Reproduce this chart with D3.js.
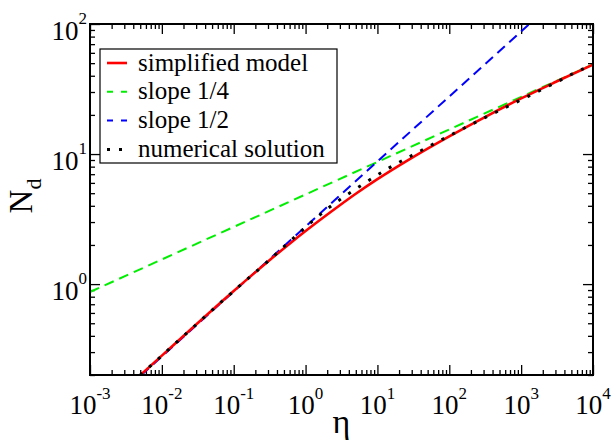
<!DOCTYPE html>
<html>
<head>
<meta charset="utf-8">
<script src="https://cdn.jsdelivr.net/npm/d3@7"></script>
<style>
  body { margin: 0; background: #fff; }
</style>
</head>
<body>
<div id="container"></div>
<script>
// Données
const etaModel = [0.005, 0.01, 0.03, 0.1, 0.3, 0.6, 1, 3, 5, 10, 25, 100, 300, 1000, 3000, 10000];
const ndModel = [0.1995, 0.282, 0.489, 0.885, 1.493, 2.046, 2.559, 4.04, 4.95, 6.41, 8.79, 13.68, 19.0, 26.76, 35.8, 48.75];

const etaSlope14 = [0.001, 10000];
const ndSlope14 = [0.87, 48.9];

const etaSlope12 = [0.0052, 1300];
const ndSlope12 = [0.2, 99.9];

const etaNum = [0.005, 0.01, 0.1, 0.3, 0.82, 1.96, 5.14, 13.7, 37.8, 107, 297, 838, 2390, 9550, 10000];
const ndNum = [0.1995, 0.282, 0.885, 1.50, 2.48, 3.75, 5.44, 7.67, 10.42, 14.09, 18.79, 24.9, 33.2, 47.8, 48.2];

const xExponents = [-3, -2, -1, 0, 1, 2, 3, 4];
const yExponents = [0, 1, 2];
const legendLabels = ["simplified model", "slope 1/4", "slope 1/2", "numerical solution"];

// Dimensions
const width = 614, height = 443;
const pLeft = 90, pRight = 593, pTop = 24, pBottom = 375;
const serif = '"Liberation Serif"';

const svg = d3.select("#container").append("svg")
  .attr("width", width).attr("height", height);

svg.append("rect").attr("width", width).attr("height", height).attr("fill", "#fff");

const x = d3.scaleLog().domain([1e-3, 1e4]).range([pLeft, pRight]);
const y = d3.scaleLog().domain([0.2, 100]).range([pBottom, pTop]);

// Graduations mineures
const xMajor = xExponents.map(e => Math.pow(10, e));
const xMinor = [];
xMajor.slice(0, -1).forEach(v => { for (let k = 2; k <= 9; k++) xMinor.push(v * k); });
const yMinor = [];
[0.1, 1, 10].forEach(v => { for (let k = 2; k <= 9; k++) { const t = v * k; if (t >= 0.2 && t < 100) yMinor.push(t); } });
const yMajor = yExponents.map(e => Math.pow(10, e));

function styleAxis(g) {
  g.select(".domain").remove();
  g.selectAll("line").attr("stroke", "#000").attr("stroke-width", 1.3);
}

// Axes (ticks vers l'intérieur, sur les quatre côtés)
[[d3.axisBottom, pBottom], [d3.axisTop, pTop]].forEach(([ax, pos]) => {
  svg.append("g").attr("transform", `translate(0,${pos})`)
    .call(ax(x).tickValues(xMajor).tickSize(-10).tickFormat("")).call(styleAxis);
  svg.append("g").attr("transform", `translate(0,${pos})`)
    .call(ax(x).tickValues(xMinor).tickSize(-5).tickFormat("")).call(styleAxis);
});
[[d3.axisLeft, pLeft], [d3.axisRight, pRight]].forEach(([ax, pos]) => {
  svg.append("g").attr("transform", `translate(${pos},0)`)
    .call(ax(y).tickValues(yMajor).tickSize(-10).tickFormat("")).call(styleAxis);
  svg.append("g").attr("transform", `translate(${pos},0)`)
    .call(ax(y).tickValues(yMinor).tickSize(-5).tickFormat("")).call(styleAxis);
});

// Etiquettes des graduations
xExponents.forEach(e => {
  const t = svg.append("text")
    .attr("x", x(Math.pow(10, e))).attr("y", 414)
    .attr("text-anchor", "middle")
    .style("font-family", serif).style("font-size", "27px");
  t.append("tspan").text("10");
  t.append("tspan").attr("dy", -15).style("font-size", "17px").text(e);
});
yExponents.forEach(e => {
  const t = svg.append("text")
    .attr("x", 87).attr("y", y(Math.pow(10, e)) + 16)
    .attr("text-anchor", "end")
    .style("font-family", serif).style("font-size", "27px");
  t.append("tspan").text("10");
  t.append("tspan").attr("dy", -16).style("font-size", "17px").text(e);
});

// Titres des axes
svg.append("text").attr("x", (pLeft + pRight) / 2).attr("y", 433)
  .attr("text-anchor", "middle")
  .style("font-family", serif).style("font-size", "34px").text("η");

const yt = svg.append("text")
  .attr("transform", `translate(32,196) rotate(-90)`)
  .attr("text-anchor", "middle")
  .style("font-family", serif).style("font-size", "33px");
yt.append("tspan").text("N");
yt.append("tspan").attr("dy", 9).style("font-size", "22px").text("d");

// Courbes
svg.append("clipPath").attr("id", "clip").append("rect")
  .attr("x", pLeft).attr("y", pTop).attr("width", pRight - pLeft).attr("height", pBottom - pTop);

const line = d3.line().x(d => x(d[0])).y(d => y(d[1])).curve(d3.curveMonotoneX);
const plot = svg.append("g").attr("clip-path", "url(#clip)");

const series = [
  { eta: etaSlope14, nd: ndSlope14, color: "#00ee00", w: 2, dash: "10,6" },
  { eta: etaSlope12, nd: ndSlope12, color: "#0000ff", w: 2, dash: "10,6" },
  { eta: etaModel, nd: ndModel, color: "#ff0000", w: 2.6, dash: null },
  { eta: etaNum, nd: ndNum, color: "#000", w: 3, dash: "3,9" }
];
series.forEach(s => {
  plot.append("path")
    .datum(s.eta.map((v, i) => [v, s.nd[i]]))
    .attr("fill", "none")
    .attr("stroke", s.color)
    .attr("stroke-width", s.w)
    .attr("stroke-dasharray", s.dash)
    .attr("d", line);
});

// Cadre
svg.append("rect").attr("x", pLeft).attr("y", pTop)
  .attr("width", pRight - pLeft).attr("height", pBottom - pTop)
  .attr("fill", "none").attr("stroke", "#000").attr("stroke-width", 2);

// Légende
const legend = svg.append("g");
legend.append("rect").attr("x", 100).attr("y", 49).attr("width", 237).attr("height", 114)
  .attr("fill", "#fff").attr("stroke", "#000").attr("stroke-width", 1.2);
const legendStyles = [
  { color: "#ff0000", w: 2.6, dash: null },
  { color: "#00ee00", w: 2, dash: "6,8" },
  { color: "#0000ff", w: 2, dash: "6,8" },
  { color: "#000", w: 3, dash: "3,9" }
];
legendLabels.forEach((lab, i) => {
  const by = 70.5 + i * 28.8;
  legend.append("line").attr("x1", 107).attr("x2", 127)
    .attr("y1", by - 7.5).attr("y2", by - 7.5)
    .attr("stroke", legendStyles[i].color)
    .attr("stroke-width", legendStyles[i].w)
    .attr("stroke-dasharray", legendStyles[i].dash);
  legend.append("text").attr("x", 138).attr("y", by)
    .style("font-family", serif).style("font-size", "25px").text(lab);
});
</script>
</body>
</html>
